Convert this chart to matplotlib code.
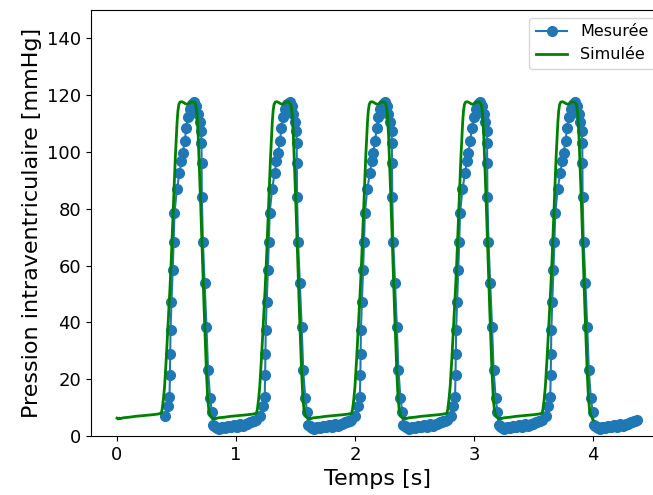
import matplotlib
matplotlib.use("Agg")
import matplotlib.pyplot as plt
import numpy as np

# ---- Data ----
period = 0.8
cycle_offsets = [0.0, 0.8, 1.6, 2.4, 3.2]

# Measured pressure, one cycle (absolute times for the first cycle)
meas_t = [0.403, 0.425, 0.441, 0.445, 0.447, 0.450, 0.458, 0.468, 0.476, 0.483,
          0.503, 0.525, 0.540, 0.553, 0.570, 0.582, 0.597, 0.613, 0.632, 0.650,
          0.668, 0.681, 0.695, 0.707, 0.710, 0.711, 0.713, 0.722, 0.737, 0.752,
          0.765, 0.782, 0.797, 0.807,
          0.818, 0.830, 0.842, 0.855, 0.868, 0.880, 0.893, 0.905, 0.918, 0.930,
          0.943, 0.955, 0.968, 0.980, 0.993, 1.005, 1.018, 1.030, 1.043, 1.055,
          1.068, 1.080, 1.093, 1.105, 1.118, 1.130, 1.143, 1.155, 1.170]
meas_p = [7.0, 10.5, 13.8, 21.5, 29.0, 37.5, 47.3, 58.4, 68.4, 78.5,
          86.8, 92.6, 96.8, 99.8, 104.0, 108.5, 112.3, 115.3, 117.0, 117.6,
          116.2, 113.5, 110.6, 107.4, 103.2, 96.0, 84.2, 68.3, 53.8, 38.4,
          23.2, 13.5, 8.5, 4.0,
          3.6, 3.2, 2.8, 2.6, 2.9, 3.3, 3.0, 2.7, 3.1, 3.5,
          3.2, 3.0, 3.4, 3.8, 3.5, 3.3, 3.7, 4.1, 3.9, 3.6,
          4.0, 4.4, 4.2, 4.6, 5.0, 4.8, 5.3, 5.4, 5.6]

# Simulated pressure, one cycle (absolute times for the first cycle)
sim_t = [0.000, 0.010, 0.020, 0.030, 0.050, 0.100, 0.150, 0.200, 0.250, 0.300,
         0.340, 0.372, 0.380, 0.390, 0.400, 0.415, 0.430, 0.445, 0.455, 0.467,
         0.479, 0.490, 0.498, 0.505, 0.512, 0.520, 0.530, 0.545, 0.560, 0.575,
         0.590, 0.605, 0.620, 0.635, 0.650, 0.662, 0.672, 0.682, 0.692, 0.702,
         0.712, 0.722, 0.732, 0.742, 0.752, 0.762, 0.772, 0.782, 0.792]
sim_p = [6.3, 6.0, 6.3, 6.1, 6.4, 6.6, 6.9, 7.1, 7.3, 7.5,
         7.7, 8.0, 9.5, 13.0, 17.5, 28.0, 40.0, 52.0, 61.0, 74.0,
         87.0, 98.0, 105.0, 110.5, 114.5, 116.8, 117.6, 117.7, 117.4, 117.0,
         116.8, 117.1, 117.5, 117.7, 117.5, 116.5, 113.5, 106.0, 95.0, 83.0,
         70.0, 57.0, 45.0, 33.0, 22.0, 13.5, 9.0, 7.3, 6.6]
sim_end_t = 4.0
sim_end_p = 5.6

# ---- Build full series from the cycles ----
mt = np.concatenate([np.array(meas_t) + o for o in cycle_offsets])
mp = np.concatenate([np.array(meas_p) for o in cycle_offsets])
st = np.concatenate([np.array(sim_t) + o for o in cycle_offsets] + [[sim_end_t]])
sp = np.concatenate([np.array(sim_p) for o in cycle_offsets] + [[sim_end_p]])

fig = plt.figure(figsize=(6.53, 4.95), dpi=100)
ax = fig.add_axes([91/653, 59/495, 572/653, 426/495])

ax.plot(mt, mp, marker='o', color='#1f77b4', linewidth=1.5, markersize=7, label='Mesurée')
ax.plot(st, sp, color='green', linewidth=2, label='Simulée')

ax.set_ylim(0, 150)
ax.set_xlabel('Temps [s]', fontsize=16)
ax.set_ylabel('Pression intraventriculaire [mmHg]', fontsize=16)
ax.tick_params(labelsize=13)
ax.legend(loc='upper right', fontsize=11.5)

fig.savefig('out.png', dpi=100)
